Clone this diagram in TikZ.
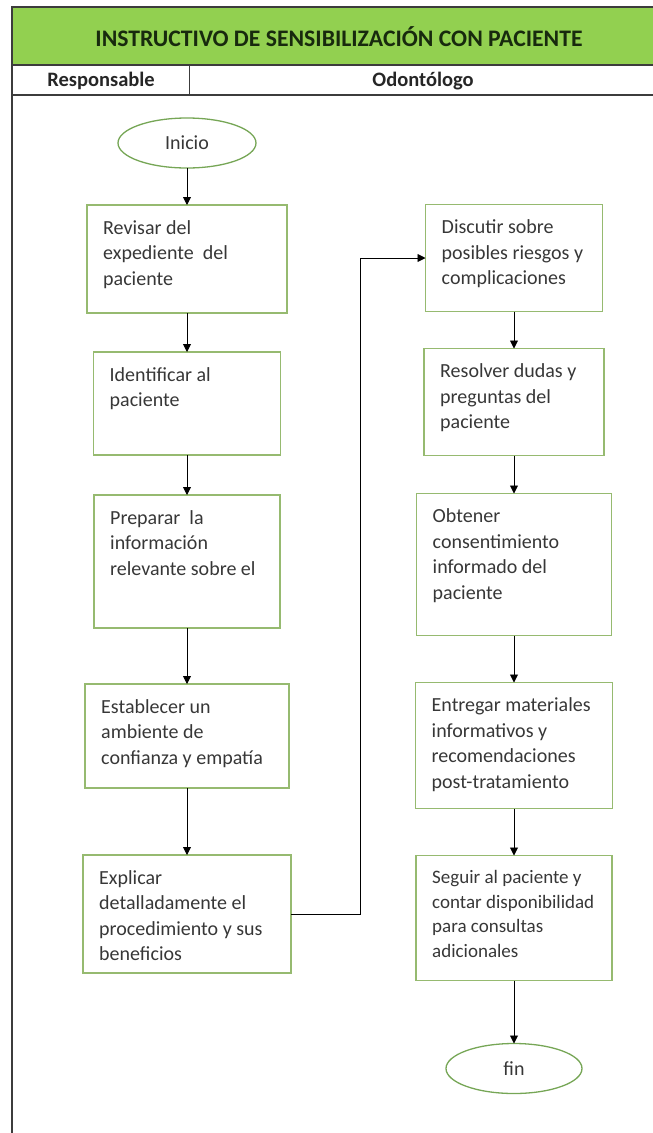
\documentclass[tikz,border=0pt]{standalone}
\usepackage{fontspec}
\setmainfont{Carlito}
\usetikzlibrary{arrows.meta,positioning,shapes.geometric}
\definecolor{verdetitulo}{RGB}{146,208,80}
\definecolor{textotitulo}{RGB}{24,42,14}
\definecolor{bordecaja}{RGB}{150,186,112}
\definecolor{bordeelipse}{RGB}{118,166,86}
\definecolor{textocaja}{RGB}{55,55,55}
\definecolor{marco}{RGB}{60,60,60}

\begin{document}
\begin{tikzpicture}[
  x=1pt, y=-1pt,
  caja/.style={draw=bordecaja, line width=1.3pt, inner sep=0pt, outer sep=0pt},
  txt/.style={anchor=north west, align=left, inner sep=0pt, xshift=16pt, yshift=-15pt, text=textocaja, font=\fontsize{20}{25.5}\selectfont},
  extremo/.style={ellipse, draw=bordeelipse, line width=1.3pt, minimum width=138pt, minimum height=50pt, inner sep=0pt, outer sep=0pt, text=textocaja, font=\fontsize{20}{24}\selectfont},
  cabecera/.style={font=\bfseries\fontsize{20.5}{23}\selectfont, text=black!85},
  arr/.style={-{Triangle[length=8pt,width=8pt]}, line width=0.9pt},
  node distance=40pt
]
  \useasboundingbox (0,0) rectangle (653,1133);

  \fill[verdetitulo] (12,7) rectangle (653,65);
  \draw[marco, line width=1.2pt] (12,65) -- (653,65);
  \draw[marco, line width=1.2pt] (12,95) -- (653,95);
  \draw[marco, line width=1pt] (189,65) -- (189,95);
  \draw[marco, line width=2pt] (653,7) -- (12,7) -- (12,1133);

  \node[font=\bfseries\fontsize{23.7}{27}\selectfont, text=textotitulo] (titulo) at (339,37) {INSTRUCTIVO DE SENSIBILIZACIÓN CON PACIENTE};
  \node[cabecera] (resp) at (101,81) {Responsable};
  \node[cabecera] (odon) at (423,81) {Odontólogo};

  \node[extremo] (inicio) at (187,143) {Inicio};
  \node[caja, minimum width=200pt, minimum height=108pt, below=37pt of inicio,
    label={[txt]north west:Revisar del\\expediente\ \ del\\paciente}] (revisar) {};
  \node[caja, minimum width=187pt, minimum height=103pt, below=39pt of revisar,
    label={[txt]north west:Identificar al\\paciente}] (identificar) {};
  \node[caja, minimum width=186pt, minimum height=133pt, below=40pt of identificar,
    label={[txt]north west:Preparar\ \ la\\información\\relevante sobre el}] (preparar) {};
  \node[caja, minimum width=204pt, minimum height=104pt, below=56pt of preparar,
    label={[txt]north west:Establecer un\\ambiente de\\confianza y empatía}] (establecer) {};
  \node[caja, minimum width=208pt, minimum height=118pt, below=67pt of establecer,
    label={[txt]north west:Explicar\\detalladamente el\\procedimiento y sus\\beneficios}] (explicar) {};

  \node[caja, minimum width=177pt, minimum height=107pt, at={(514,258)},
    label={[txt]north west:Discutir sobre\\posibles riesgos y\\complicaciones}] (discutir) {};
  \node[caja, minimum width=180pt, minimum height=107pt, below=37pt of discutir,
    label={[txt]north west:Resolver dudas y\\preguntas del\\paciente}] (resolver) {};
  \node[caja, minimum width=195pt, minimum height=142pt, below=38pt of resolver,
    label={[txt]north west:Obtener\\consentimiento\\informado del\\paciente}] (obtener) {};
  \node[caja, minimum width=197pt, minimum height=126pt, below=47pt of obtener,
    label={[txt]north west:Entregar materiales\\informativos y\\recomendaciones\\post-tratamiento}] (entregar) {};
  \node[caja, minimum width=196pt, minimum height=125pt, below=47pt of entregar,
    label={[txt, font=\fontsize{19}{24.5}\selectfont]north west:Seguir al paciente y\\contar disponibilidad\\para consultas\\adicionales}] (seguir) {};
  \node[extremo, minimum width=136pt, below=63pt of seguir] (fin) {fin};

  \draw[arr] (inicio) -- (revisar);
  \draw[arr] (revisar) -- (identificar);
  \draw[arr] (identificar) -- (preparar);
  \draw[arr] (preparar) -- (establecer);
  \draw[arr] (establecer) -- (explicar);
  \draw[arr] (explicar.east) -- ++(69,0) |- (discutir.west);
  \draw[arr] (discutir) -- (resolver);
  \draw[arr] (resolver) -- (obtener);
  \draw[arr] (obtener) -- (entregar);
  \draw[arr] (entregar) -- (seguir);
  \draw[arr] (seguir) -- (fin);
\end{tikzpicture}
\end{document}
